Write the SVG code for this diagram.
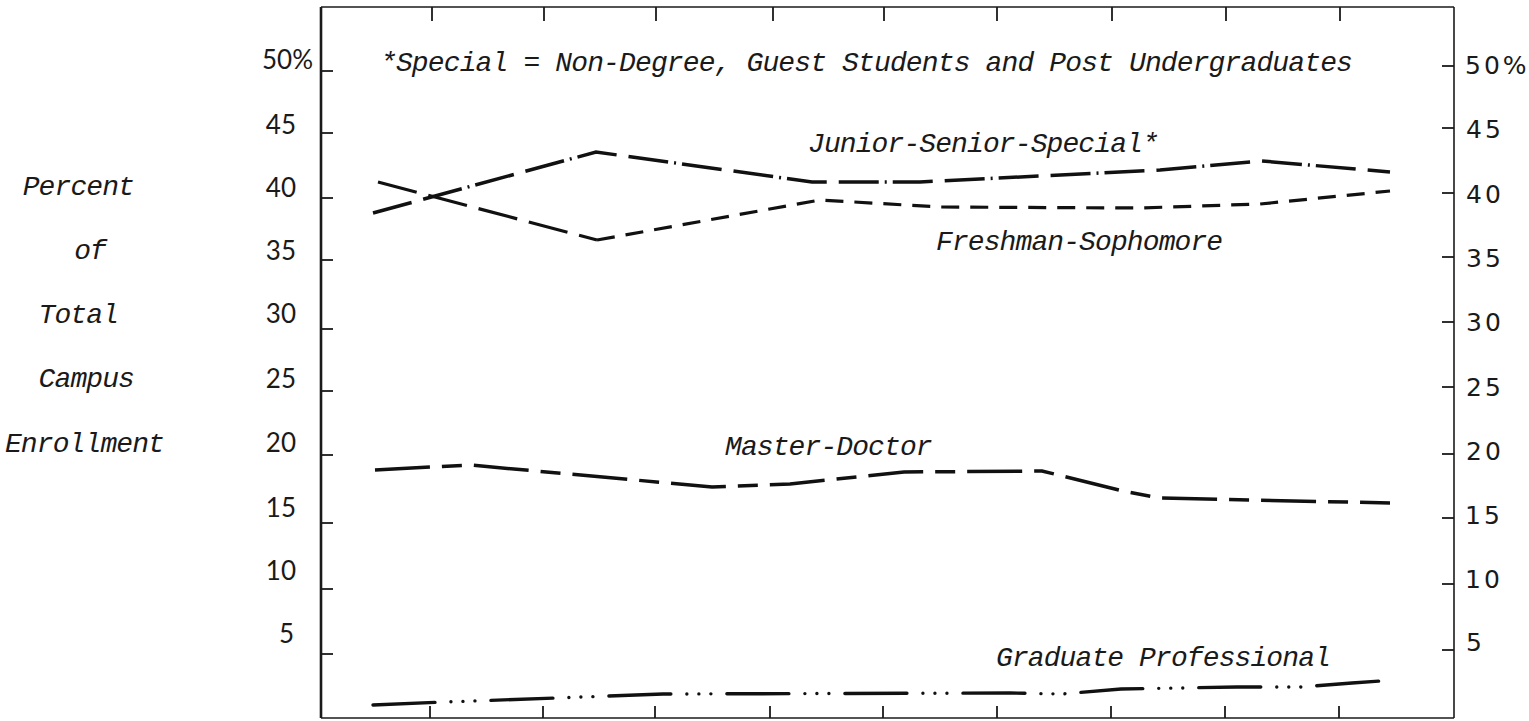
<svg xmlns="http://www.w3.org/2000/svg" width="1529" height="721" viewBox="0 0 1529 721">
<style>
.lab { font-family: "Liberation Mono", "DejaVu Sans Mono", monospace; font-style: italic; font-size: 28px; letter-spacing: -0.9px; fill: #1a1a1a; }
.numL { font-family: Lato, "Liberation Sans", sans-serif; font-size: 26px; fill: #1a1a1a; text-anchor: end; }
.numR { font-family: "DejaVu Sans", sans-serif; font-size: 25px; letter-spacing: 3px; fill: #1a1a1a; }
.frame { fill: none; stroke: #1a1a1a; stroke-width: 1.6; }
.tick { stroke: #1a1a1a; stroke-width: 1.8; }
.ser { fill: none; stroke: #111; stroke-width: 3.2; }
</style>
<rect width="1529" height="721" fill="#ffffff"/>

<g id="frame">
  <line class="frame" x1="321" y1="7" x2="1454" y2="7"/>
  <line class="frame" x1="1454" y1="7" x2="1454" y2="718"/>
  <line class="frame" x1="321" y1="718" x2="1454" y2="718"/>
  <line class="frame" x1="321" y1="7" x2="321" y2="718" style="stroke-width:2.6"/>
</g>

<g id="ticks">
  <g id="ticks-left">
    <line class="tick" x1="321" y1="71" x2="333" y2="71"/>
    <line class="tick" x1="321" y1="133" x2="333" y2="133"/>
    <line class="tick" x1="321" y1="198" x2="333" y2="198"/>
    <line class="tick" x1="321" y1="260" x2="333" y2="260"/>
    <line class="tick" x1="321" y1="329" x2="333" y2="329"/>
    <line class="tick" x1="321" y1="391" x2="333" y2="391"/>
    <line class="tick" x1="321" y1="455" x2="333" y2="455"/>
    <line class="tick" x1="321" y1="523" x2="333" y2="523"/>
    <line class="tick" x1="321" y1="589" x2="333" y2="589"/>
    <line class="tick" x1="321" y1="654" x2="333" y2="654"/>
  </g>
  <g id="ticks-right">
    <line class="tick" x1="1442" y1="66" x2="1454" y2="66"/>
    <line class="tick" x1="1442" y1="128" x2="1454" y2="128"/>
    <line class="tick" x1="1442" y1="193" x2="1454" y2="193"/>
    <line class="tick" x1="1442" y1="257" x2="1454" y2="257"/>
    <line class="tick" x1="1442" y1="322" x2="1454" y2="322"/>
    <line class="tick" x1="1442" y1="387" x2="1454" y2="387"/>
    <line class="tick" x1="1442" y1="454" x2="1454" y2="454"/>
    <line class="tick" x1="1442" y1="518" x2="1454" y2="518"/>
    <line class="tick" x1="1442" y1="584" x2="1454" y2="584"/>
    <line class="tick" x1="1442" y1="650" x2="1454" y2="650"/>
  </g>
  <g id="ticks-top">
    <line class="tick" x1="432" y1="7" x2="432" y2="21"/>
    <line class="tick" x1="544" y1="7" x2="544" y2="21"/>
    <line class="tick" x1="656" y1="7" x2="656" y2="21"/>
    <line class="tick" x1="773" y1="7" x2="773" y2="21"/>
    <line class="tick" x1="884" y1="7" x2="884" y2="21"/>
    <line class="tick" x1="997" y1="7" x2="997" y2="21"/>
    <line class="tick" x1="1112" y1="7" x2="1112" y2="21"/>
    <line class="tick" x1="1226" y1="7" x2="1226" y2="21"/>
    <line class="tick" x1="1340" y1="7" x2="1340" y2="21"/>
  </g>
  <g id="ticks-bottom">
    <line class="tick" x1="430" y1="706" x2="430" y2="718"/>
    <line class="tick" x1="543" y1="706" x2="543" y2="718"/>
    <line class="tick" x1="655" y1="706" x2="655" y2="718"/>
    <line class="tick" x1="770" y1="706" x2="770" y2="718"/>
    <line class="tick" x1="883" y1="706" x2="883" y2="718"/>
    <line class="tick" x1="997" y1="706" x2="997" y2="718"/>
    <line class="tick" x1="1111" y1="706" x2="1111" y2="718"/>
    <line class="tick" x1="1225" y1="706" x2="1225" y2="718"/>
    <line class="tick" x1="1339" y1="706" x2="1339" y2="718"/>
  </g>
</g>

<g id="labels-left">
  <text class="numL" x="313" y="69">50%</text>
  <text class="numL" x="296" y="134">45</text>
  <text class="numL" x="296" y="197">40</text>
  <text class="numL" x="296" y="260">35</text>
  <text class="numL" x="296" y="323">30</text>
  <text class="numL" x="296" y="388">25</text>
  <text class="numL" x="296" y="452">20</text>
  <text class="numL" x="296" y="517">15</text>
  <text class="numL" x="296" y="580">10</text>
  <text class="numL" x="294" y="643">5</text>
</g>

<g id="labels-right">
  <text class="numR" x="1465" y="74">50%</text>
  <text class="numR" x="1466" y="138">45</text>
  <text class="numR" x="1466" y="203">40</text>
  <text class="numR" x="1466" y="267">35</text>
  <text class="numR" x="1466" y="331">30</text>
  <text class="numR" x="1466" y="396">25</text>
  <text class="numR" x="1466" y="460">20</text>
  <text class="numR" x="1465" y="524">15</text>
  <text class="numR" x="1465" y="588">10</text>
  <text class="numR" x="1466" y="651">5</text>
</g>

<g id="axis-title">
  <text class="lab" x="134" y="195" text-anchor="end">Percent</text>
  <text class="lab" x="106" y="259" text-anchor="end">of</text>
  <text class="lab" x="118" y="323" text-anchor="end">Total</text>
  <text class="lab" x="134" y="387" text-anchor="end">Campus</text>
  <text class="lab" x="164" y="452" text-anchor="end">Enrollment</text>
</g>

<g id="note">
  <text class="lab" x="380" y="71" textLength="972" lengthAdjust="spacing">*Special = Non-Degree, Guest Students and Post Undergraduates</text>
</g>

<g id="connectors">
  <g id="junior-senior-special">
    <path class="ser" style="stroke-width:3.5" stroke-dasharray="40 12 40 6 2 6" d="M373,213 L596,152 L812,182 L920,182 L1160,170 L1262,161 L1390,172"/>
    <text class="lab" x="808" y="152">Junior-Senior-Special*</text>
  </g>
  <g id="freshman-sophomore">
    <path class="ser" stroke-dasharray="40 12" d="M378,182 L597,240"/>
    <path class="ser" stroke-dasharray="18 11" d="M597,240 L820,200 L940,207 L1140,208 L1260,204 L1390,191"/>
    <text class="lab" x="936" y="250">Freshman-Sophomore</text>
  </g>
  <g id="master-doctor">
    <path class="ser" style="stroke-width:3.5" stroke-dasharray="55 12 20 12" d="M375,470 L470,465 L712,487 L790,484 L904,472 L1042,471 L1123,491 L1160,498 L1390,503"/>
    <text class="lab" x="725" y="455">Master-Doctor</text>
  </g>
  <g id="graduate-professional">
    <path class="ser" style="stroke-width:3.4" stroke-linecap="round" stroke-dasharray="62 16 0.01 12 0.01 12 0.01 16" d="M373,705 L445,702 L555,698 L663,694 L1010,693 L1062,694 L1121,689 L1237,687 L1300,687 L1352,683 L1394,680"/>
    <text class="lab" x="996" y="666">Graduate Professional</text>
  </g>
</g>
</svg>
